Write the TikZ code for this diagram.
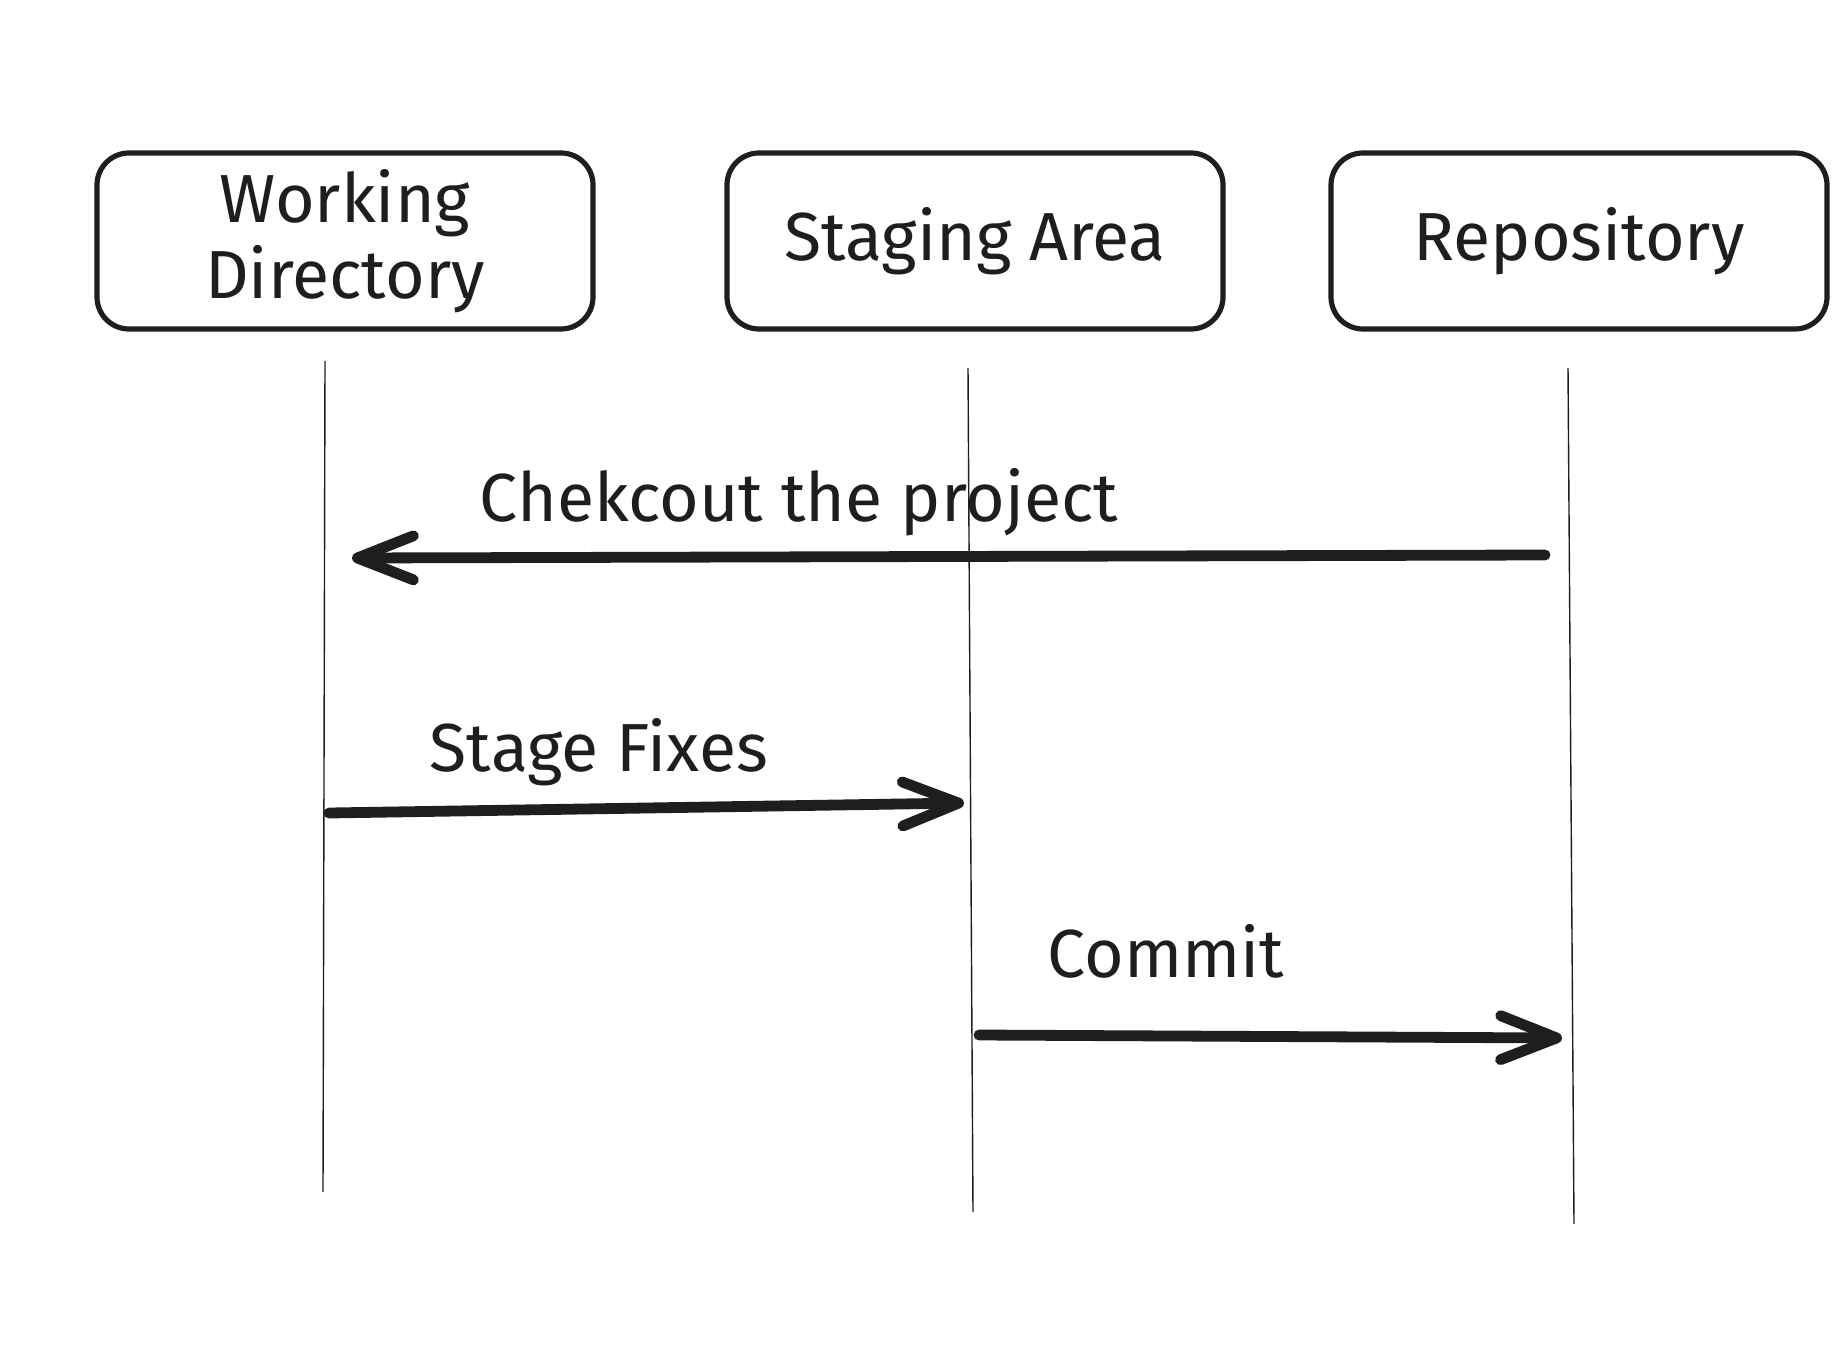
\documentclass[tikz,border=0pt]{standalone}
\usepackage{fontspec}
\setmainfont{Fira Sans}
\usetikzlibrary{arrows.meta}
\definecolor{inkcolor}{rgb}{0.118, 0.118, 0.118}
\tikzset{
  lanebox/.style={draw=inkcolor, line width=2.6pt, rounded corners=16pt,
    minimum width=248pt, minimum height=88pt, align=center,
    font=\fontsize{34}{38}\selectfont, text=inkcolor},
  lifeline/.style={draw=inkcolor, line width=0.7pt},
  msgarrow/.style={draw=inkcolor, line width=5.4pt, line cap=round,
    -{Straight Barb[length=28pt, width=22pt, line width=5.4pt, round]}},
  msglabel/.style={font=\fontsize{34}{38}\selectfont, text=inkcolor}
}
\begin{document}
\begin{tikzpicture}[x=0.5pt, y=-0.5pt]
\useasboundingbox (0,0) rectangle (1842,1358);
% participants
\node[lanebox] (workdir) at (345,241) {Working\\Directory};
\node[lanebox] (staging) at (975,241) {Staging Area};
\node[lanebox] (repo) at (1579,241) {Repository};
% lifelines
\coordinate (workdir top) at (325,361);
\coordinate (workdir bot) at (323,1192);
\coordinate (staging top) at (968,368);
\coordinate (staging bot) at (973,1212);
\coordinate (repo top) at (1568,368);
\coordinate (repo bot) at (1574,1224);
\draw[lifeline] (workdir top) -- (workdir bot);
\draw[lifeline] (staging top) -- (staging bot);
\draw[lifeline] (repo top) -- (repo bot);
% messages
\coordinate (checkout start) at (1545,555);
\coordinate (checkout end) at (352,558);
\coordinate (stage start) at (329,813);
\coordinate (stage end) at (964,803);
\coordinate (commit start) at (979,1035);
\coordinate (commit end) at (1562,1038);
\draw[msgarrow] (checkout start) -- (checkout end);
\draw[msgarrow] (stage start) -- (stage end);
\draw[msgarrow] (commit start) -- (commit end);
\node[msglabel] (checkout label) at (799,502) {Chekcout the project};
\node[msglabel] (stage label) at (599,752) {Stage Fixes};
\node[msglabel] (commit label) at (1166,951) {Commit};
\end{tikzpicture}
\end{document}
